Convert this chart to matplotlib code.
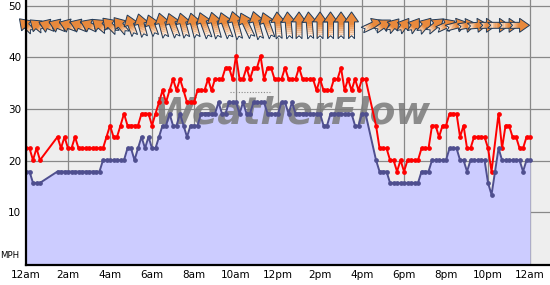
import numpy as np
import matplotlib
matplotlib.use("Agg")
import matplotlib.pyplot as plt
from matplotlib.patches import Polygon
from matplotlib.collections import LineCollection

nan = np.nan

# 10-minute samples, one row per hour (mph)
avg_mph = [
    17.9, 17.9, 15.7, 15.7, 15.7, nan,
    nan, nan, nan, 17.9, 17.9, 17.9,
    17.9, 17.9, 17.9, 17.9, 17.9, 17.9,
    17.9, 17.9, 17.9, 17.9, 20.1, 20.1,
    20.1, 20.1, 20.1, 20.1, 20.1, 22.4,
    22.4, 20.1, 22.4, 24.6, 22.4, 24.6,
    22.4, 22.4, 24.6, 26.8, 26.8, 29.1,
    26.8, 26.8, 29.1, 26.8, 24.6, 26.8,
    26.8, 26.8, 29.1, 29.1, 29.1, 29.1,
    29.1, 31.3, 29.1, 29.1, 31.3, 31.3,
    31.3, 29.1, 31.3, 29.1, 29.1, 31.3,
    31.3, 31.3, 31.3, 29.1, 29.1, 29.1,
    29.1, 31.3, 31.3, 29.1, 31.3, 29.1,
    29.1, 29.1, 29.1, 29.1, 29.1, 29.1,
    29.1, 26.8, 26.8, 29.1, 29.1, 29.1,
    29.1, 29.1, 29.1, 29.1, 26.8, 26.8,
    29.1, 29.1, nan, nan, 20.1, 17.9,
    17.9, 17.9, 15.7, 15.7, 15.7, 15.7,
    15.7, 15.7, 15.7, 15.7, 15.7, 17.9,
    17.9, 17.9, 20.1, 20.1, 20.1, 20.1,
    20.1, 22.4, 22.4, 22.4, 20.1, 20.1,
    17.9, 20.1, 20.1, 20.1, 20.1, 20.1,
    15.7, 13.4, 17.9, 22.4, 20.1, 20.1,
    20.1, 20.1, 20.1, 20.1, 17.9, 20.1,
    20.1,
]

gust_mph = [
    22.4, 22.4, 20.1, 22.4, 20.1, nan,
    nan, nan, nan, 24.6, 22.4, 24.6,
    22.4, 22.4, 24.6, 22.4, 22.4, 22.4,
    22.4, 22.4, 22.4, 22.4, 22.4, 24.6,
    26.8, 24.6, 24.6, 26.8, 29.1, 26.8,
    26.8, 26.8, 26.8, 29.1, 29.1, 29.1,
    26.8, 29.1, 31.3, 33.6, 31.3, 33.6,
    35.8, 33.6, 35.8, 33.6, 31.3, 31.3,
    31.3, 33.6, 33.6, 33.6, 35.8, 33.6,
    35.8, 35.8, 35.8, 38.0, 38.0, 35.8,
    40.3, 35.8, 35.8, 38.0, 35.8, 38.0,
    38.0, 40.3, 35.8, 38.0, 38.0, 35.8,
    35.8, 35.8, 38.0, 35.8, 35.8, 35.8,
    38.0, 35.8, 35.8, 35.8, 35.8, 33.6,
    35.8, 33.6, 33.6, 33.6, 35.8, 35.8,
    38.0, 33.6, 35.8, 33.6, 35.8, 33.6,
    35.8, 35.8, nan, nan, 26.8, 22.4,
    22.4, 22.4, 20.1, 20.1, 17.9, 20.1,
    17.9, 20.1, 20.1, 20.1, 20.1, 22.4,
    22.4, 22.4, 26.8, 26.8, 24.6, 26.8,
    26.8, 29.1, 29.1, 29.1, 24.6, 26.8,
    22.4, 22.4, 24.6, 24.6, 24.6, 24.6,
    22.4, 17.9, nan, 29.1, 22.4, 26.8,
    26.8, 24.6, 24.6, 22.4, 22.4, 24.6,
    24.6,
]

# wind direction (degrees, blowing from), every 30 min from 12am
dir_from = [
    135, 130, 112, 112, 110, 112, 115, 130, 135, 140, 160, 165,
    160, 165, 160, 165, 165, 160, 165, 160, 165, 155, 165, 160,
    175, 175, 180, 175, 180, 180, 180, 180,
    nan, 245, 235, 220, 215, 215, 220, 230,
    245, 255, 260, 265, 270, 270, 270, 270,
]

hour_ticks = [0, 2, 4, 6, 8, 10, 12, 14, 16, 18, 20, 22, 24]
hour_labels = ["12am", "2am", "4am", "6am", "8am", "10am", "12pm",
               "2pm", "4pm", "6pm", "8pm", "10pm", "12am"]
mph_ticks = [10, 20, 30, 40, 50]

t = np.arange(len(avg_mph)) / 6.0
avg = np.array(avg_mph)
gust = np.array(gust_mph)
ma = ~np.isnan(avg)
mg = ~np.isnan(gust)

XMAX, YMIN, YMAX = 24.95, -0.2, 51.1
W_PX, H_PX = 524, 265

fig = plt.figure(figsize=(5.5, 2.85), dpi=100)
ax = fig.add_axes([26 / 550, 20 / 285, W_PX / 550, H_PX / 285])
ax.set_facecolor("#eeeeee")
ax.set_xlim(0, XMAX)
ax.set_ylim(YMIN, YMAX)
ax.set_axisbelow(True)
ax.grid(True, color="#888888", lw=0.9)

ax.fill_between(t[ma], 0, avg[ma], color="#ccccff", lw=0, zorder=1)

ax.text(12.7, 27.1, "WeatherFlow", fontsize=27, fontweight="bold", style="italic",
        color="#7a7a7a", alpha=0.85, ha="center", va="baseline", zorder=2)
ax.plot([9.7, 11.6], [33.3, 33.3], ls=(0, (1, 1.5)), color="#888888", lw=0.8, zorder=2)

ax.plot(t[mg], gust[mg], color="#ff0000", lw=1.4, marker="o", ms=2.4, zorder=4)
ax.plot(t[ma], avg[ma], color="#4f4f8f", lw=1.4, marker="o", ms=2.4, zorder=4)

# direction arrows along the top, drawn in pixel units
sx = XMAX / W_PX
sy = (YMAX - YMIN) / H_PX
arrow_y = 46.2
orange = np.array(matplotlib.colors.to_rgb("#e8893c"))
white = np.array([1.0, 1.0, 1.0])
w, hw, hl = 3.0, 7.0, 10.0
for k, d in enumerate(dir_from):
    if np.isnan(d):
        continue
    tk = k * 0.5
    spd = np.interp(tk, t[ma], avg[ma])
    L = 0.75 * spd + 5
    head = np.deg2rad(d + 180)
    ux, uy = np.sin(head), np.cos(head)
    px, py = -uy, ux
    shape = [(-L / 2, -w), (L / 2 - hl, -w), (L / 2 - hl, -hw), (L / 2, 0),
             (L / 2 - hl, hw), (L / 2 - hl, w), (-L / 2, w), (-L / 2 + 3, 0)]
    pts = [(tk + (a * ux + b * px) * sx, arrow_y + (a * uy + b * py) * sy) for a, b in shape]
    ax.add_patch(Polygon(pts, closed=True, fc="#e8893c", ec="none", zorder=6, clip_on=False))
    n = 8
    a0, a1 = -L / 2 + 1.0, L / 2 - hl
    segs, cols = [], []
    for j in range(n):
        aa = a0 + (a1 - a0) * j / n
        ab = a0 + (a1 - a0) * (j + 1) / n
        segs.append([(tk + aa * ux * sx, arrow_y + aa * uy * sy),
                     (tk + ab * ux * sx, arrow_y + ab * uy * sy)])
        f = j / (n - 1)
        cols.append(white * (1 - f) + orange * f)
    ax.add_collection(LineCollection(segs, colors=cols, linewidths=2 * w * 0.72 - 0.7,
                                     capstyle="butt", zorder=6, clip_on=False))
    ax.add_patch(Polygon(pts, closed=True, fill=False, ec="#1e3a5a", lw=0.7,
                         zorder=6, clip_on=False))

ax.set_xticks(hour_ticks)
ax.set_xticklabels(hour_labels, fontsize=7.5)
ax.set_yticks(mph_ticks)
ax.set_yticklabels([str(v) for v in mph_ticks], fontsize=7.5)
ax.tick_params(length=0, pad=3.5)
for s in ["top", "right"]:
    ax.spines[s].set_visible(False)
for s in ["left", "bottom"]:
    ax.spines[s].set_linewidth(1.6)
    ax.spines[s].set_color("black")
    ax.spines[s].set_zorder(7)

fig.text(0.5 / 550, 1 - 256 / 285, "MPH", fontsize=6.2, ha="left", va="center")

fig.savefig("out.png", dpi=100)
